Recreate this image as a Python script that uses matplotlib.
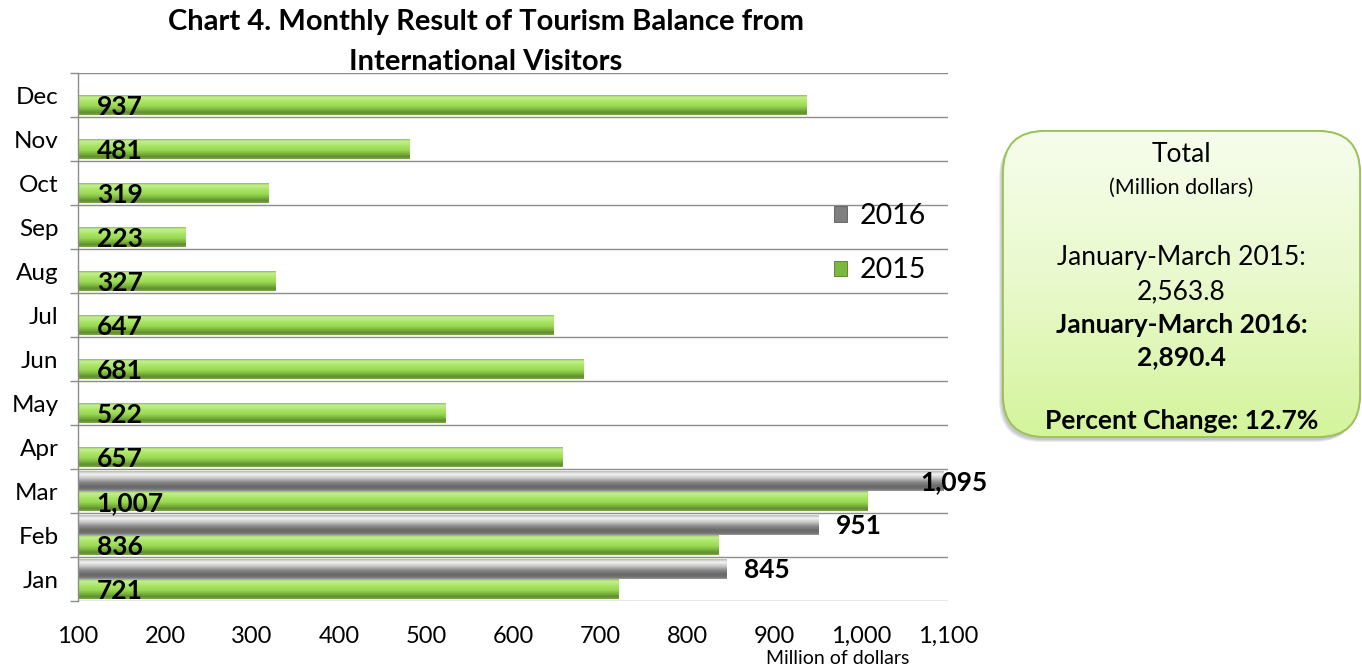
import numpy as np
import matplotlib
matplotlib.use("Agg")
import matplotlib.pyplot as plt
from matplotlib.patches import Patch, FancyBboxPatch
from matplotlib.colors import to_rgb

# ---------------- data ----------------
months = ["Jan", "Feb", "Mar", "Apr", "May", "Jun", "Jul", "Aug", "Sep", "Oct", "Nov", "Dec"]
values_2015 = [721, 836, 1007, 657, 522, 681, 647, 327, 223, 319, 481, 937]
values_2016 = [845, 951, 1095]
series_names = ["2016", "2015"]
x_ticks = [100, 200, 300, 400, 500, 600, 700, 800, 900, 1000, 1100]
title_lines = ["Chart 4. Monthly Result of Tourism Balance from", "International Visitors"]
x_label = "Million of dollars"
box_lines = [
    ("Total", 19, "normal"),
    ("(Million dollars)", 15.5, "normal"),
    ("January-March 2015:", 19, "normal"),
    ("2,563.8", 19, "normal"),
    ("January-March 2016:", 19, "bold"),
    ("2,890.4", 19, "bold"),
    ("Percent Change: 12.7%", 19, "bold"),
]
box_line_y = [155, 188, 258, 292, 325, 357, 421]

XMIN, XMAX = 100, 1100
W, H = 1362, 666
FONT = ["Lato", "DejaVu Sans"]
plt.rcParams["font.family"] = FONT

fig = plt.figure(figsize=(W / 100, H / 100), dpi=100)
fig.patch.set_facecolor("white")

def fx(px):
    return px / W

def fy(py):
    return 1 - py / H

ax = fig.add_axes([fx(78), fy(601), fx(948) - fx(78), fy(73) - fy(601)])

y = np.arange(len(months))
bh = 0.44
off = 0.23

green_stops = [(0.0, "#8fbf5a"), (0.1, "#c4f08a"), (0.35, "#a8e464"), (0.55, "#9ada52"),
               (0.75, "#78b03c"), (0.88, "#5f8c30"), (1.0, "#7aa846")]
gray_stops = [(0.0, "#b8b8b8"), (0.15, "#f4f4f4"), (0.35, "#c8c8c8"), (0.55, "#8c8c8c"),
              (0.75, "#6a6a6a"), (0.9, "#707070"), (1.0, "#9a9a9a")]

def grad_img(stops, n=64):
    pos = np.array([s[0] for s in stops])
    cols = np.array([to_rgb(s[1]) for s in stops])
    t = np.linspace(0, 1, n)
    img = np.stack([np.interp(t, pos, cols[:, k]) for k in range(3)], axis=-1)
    return img[:, None, :]

def shade(bars, stops):
    img = grad_img(stops)
    for p in bars:
        x0, y0 = p.get_x(), p.get_y()
        x1, y1 = x0 + p.get_width(), y0 + p.get_height()
        im = ax.imshow(img, extent=(x0, x1, y0, y1), origin="upper", aspect="auto",
                       zorder=p.get_zorder() + 0.1, interpolation="bilinear")
        im.set_clip_path(p)

b15 = ax.barh(y - off, np.array(values_2015) - XMIN, left=XMIN, height=bh,
              color="#92c950", edgecolor="none", zorder=3)
y16 = y[:len(values_2016)]
b16 = ax.barh(y16 + off, np.array(values_2016) - XMIN, left=XMIN, height=bh,
              color="#8a8a8a", edgecolor="none", zorder=3)
shade(b15, green_stops)
shade(b16, gray_stops)

# labels
for yi, v in zip(y, values_2015):
    ax.annotate(f"{v:,}", xy=(XMIN, yi - off), xytext=(13.5, -7.2), textcoords="offset points",
                ha="left", va="baseline", fontsize=19, fontweight="bold", color="black", zorder=6)
for yi, v in zip(y16, values_2016):
    ax.annotate(f"{v:,}", xy=(min(v + 20, 1068), yi + off), xytext=(0, -6.7),
                textcoords="offset points", ha="left", va="baseline", fontsize=19,
                fontweight="bold", color="black", zorder=6, annotation_clip=False)

ax.set_xlim(XMIN, XMAX)
ax.set_ylim(-0.5, len(months) - 0.5)
ax.set_xticks(x_ticks)
ax.set_xticklabels([f"{t:,}" for t in x_ticks], fontsize=17)
ax.set_yticks(y)
ax.set_yticklabels(months, fontsize=17.5)
ax.set_yticks(np.arange(-0.5, len(months), 1.0), minor=True)
ax.tick_params(axis="y", which="major", length=0, pad=14)
ax.tick_params(axis="y", which="minor", length=6, width=1.0, color="#8c8c8c", direction="out")
ax.tick_params(axis="x", which="both", length=0, pad=18)
ax.grid(which="minor", axis="y", color="#8c8c8c", linewidth=1.0, zorder=1)
ax.grid(which="major", visible=False)
ax.set_axisbelow(True)
for s in ["top", "right", "bottom"]:
    ax.spines[s].set_visible(False)
ax.spines["left"].set_color("#8c8c8c")
ax.spines["left"].set_linewidth(1.0)
ax.spines["left"].set_zorder(5)

# legend
handles = [Patch(facecolor="#7f7f7f", edgecolor="#5a5a5a", linewidth=0.6),
           Patch(facecolor="#7cb83e", edgecolor="#4f7a28", linewidth=0.6)]
leg = fig.legend(handles, series_names, loc="upper left",
                 bbox_to_anchor=(fx(834), fy(203)), frameon=False, fontsize=20.5,
                 handlelength=0.45, handleheight=0.45, handletextpad=0.45,
                 labelspacing=1.0, borderpad=0, borderaxespad=0)

# title
for line, py in zip(title_lines, [22, 62]):
    fig.text(fx(486), fy(py), line, ha="center", va="center", fontsize=21,
             fontweight="bold")
fig.text(fx(838), fy(658), x_label, ha="center", va="center", fontsize=14)

# summary box
bx0, by0, bx1, by1 = 990, 120, 1362, 450
bax = fig.add_axes([fx(bx0), fy(by1), fx(bx1) - fx(bx0), fy(by0) - fy(by1)])
bax.set_xlim(0, bx1 - bx0)
bax.set_ylim(0, by1 - by0)
bax.axis("off")
rx0, rx1 = 1003 - bx0, 1360 - bx0
ry0, ry1 = by1 - 437, by1 - 131
RS = 42
for k in range(3):
    sh = FancyBboxPatch((rx0 - 2 - k, ry0 - 3 - k), rx1 - rx0, ry1 - ry0,
                        boxstyle=f"round,pad=0,rounding_size={RS}", facecolor="black",
                        edgecolor="none", alpha=0.08, zorder=1)
    bax.add_patch(sh)
box = FancyBboxPatch((rx0, ry0), rx1 - rx0, ry1 - ry0,
                     boxstyle=f"round,pad=0,rounding_size={RS}", facecolor="#e8f8c8",
                     edgecolor="#9bc25a", linewidth=1.3, zorder=2)
bax.add_patch(box)
bimg = grad_img([(0.0, "#f6fdec"), (0.5, "#e9f9cc"), (1.0, "#d4f49c")])
bim = bax.imshow(bimg, extent=(rx0, rx1, ry0, ry1), origin="upper", aspect="auto",
                 zorder=2.5, interpolation="bilinear")
bim.set_clip_path(box)
edge = FancyBboxPatch((rx0, ry0), rx1 - rx0, ry1 - ry0,
                      boxstyle=f"round,pad=0,rounding_size={RS}", facecolor="none",
                      edgecolor="#9bc25a", linewidth=1.3, zorder=3)
bax.add_patch(edge)
bax.set_xlim(0, bx1 - bx0)
bax.set_ylim(0, by1 - by0)

cx = (1003 + 1360) / 2
for (txt, fs, fw), py in zip(box_lines, box_line_y):
    fig.text(fx(cx), fy(py), txt, ha="center", va="center", fontsize=fs,
             fontweight=fw, color="black")

fig.savefig("out.png", dpi=100)
